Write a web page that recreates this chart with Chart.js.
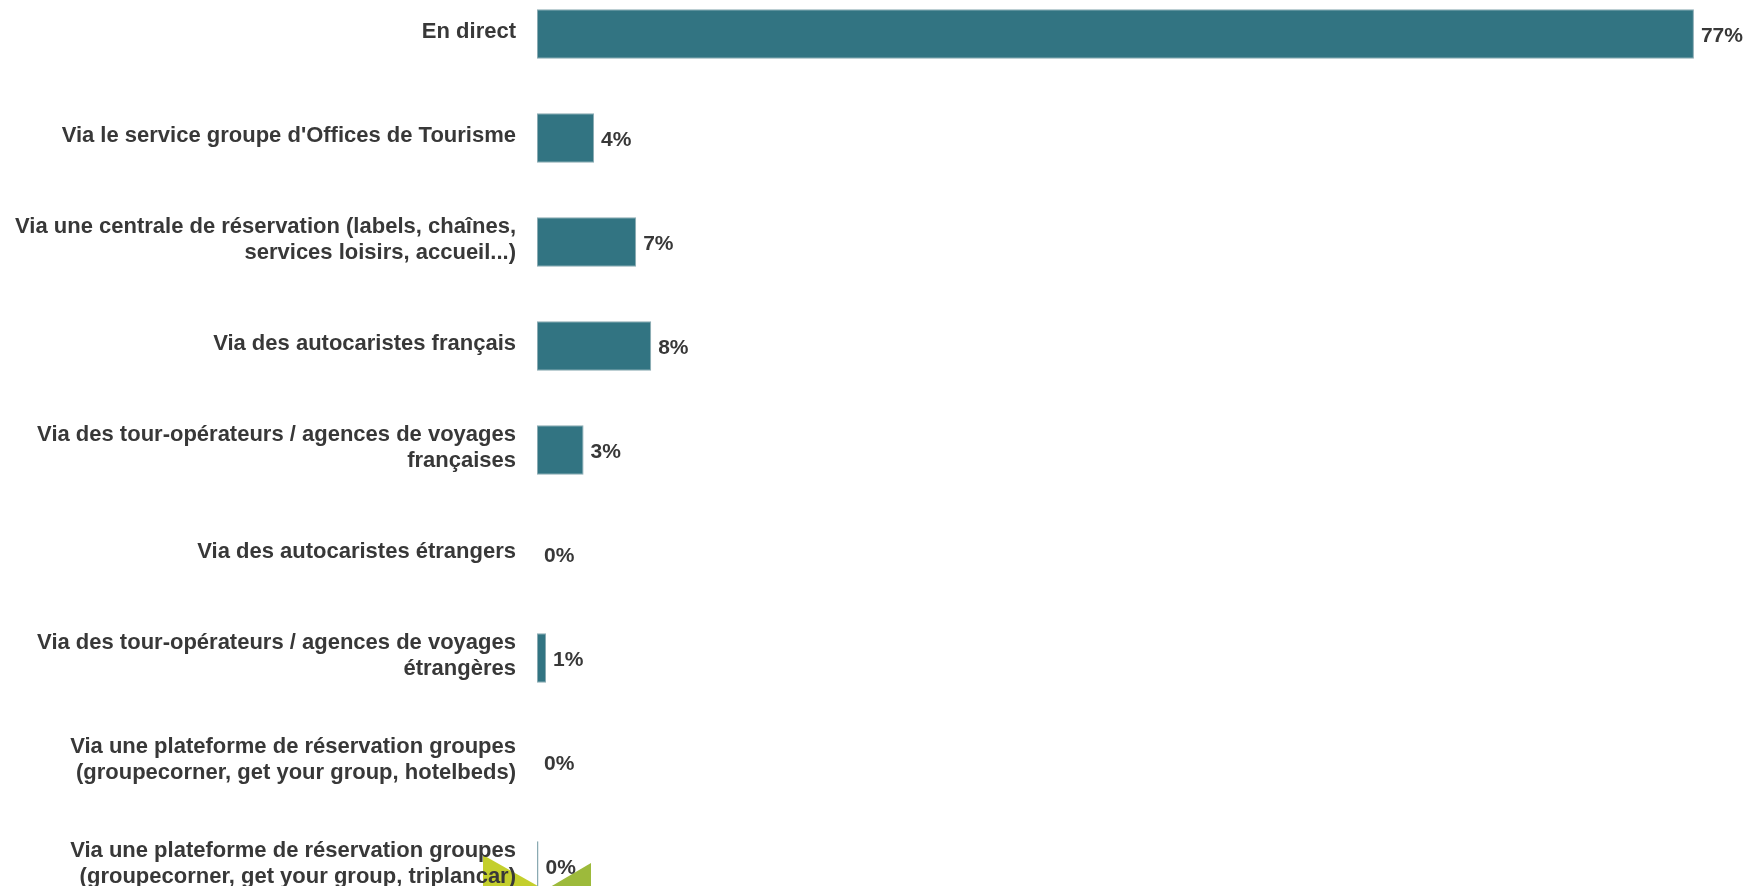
<!DOCTYPE html>
<html lang="fr">
<head>
<meta charset="utf-8">
<title>Canaux de réservation</title>
<script src="https://cdn.jsdelivr.net/npm/chart.js@4/dist/chart.umd.min.js"></script>
<style>
  html, body { margin: 0; padding: 0; background: #fff; overflow: hidden; }
  body { width: 1748px; height: 886px; position: relative; }
  #wrap { position: absolute; left: 0; top: -18px; width: 1748px; height: 936px; }
</style>
</head>
<body>
<div id="wrap"><canvas id="chart"></canvas></div>
<script>
/* ─── Data ───────────────────────────────────────────────────────────────── */
const categories = [
  ['En direct'],
  ["Via le service groupe d'Offices de Tourisme"],
  ['Via une centrale de réservation (labels, chaînes,', 'services loisirs, accueil...)'],
  ['Via des autocaristes français'],
  ['Via des tour-opérateurs / agences de voyages', 'françaises'],
  ['Via des autocaristes étrangers'],
  ['Via des tour-opérateurs / agences de voyages', 'étrangères'],
  ['Via une plateforme de réservation groupes', '(groupecorner, get your group, hotelbeds)'],
  ['Via une plateforme de réservation groupes', '(groupecorner, get your group, triplancar)']
];
const shares = [77, 3.8, 6.6, 7.6, 3.1, 0, 0.6, 0, 0.1];

const TEXT = '#383838';
const FONT = '"Liberation Sans", Arial, sans-serif';

/* ─── Plugins ────────────────────────────────────────────────────────────── */
// value labels at the end of each bar
const valueLabels = {
  id: 'valueLabels',
  afterDatasetsDraw(chart) {
    const { ctx } = chart;
    const meta = chart.getDatasetMeta(0);
    ctx.save();
    ctx.font = `bold 21px ${FONT}`;
    ctx.fillStyle = TEXT;
    ctx.textAlign = 'left';
    ctx.textBaseline = 'middle';
    meta.data.forEach((bar, i) => {
      ctx.fillText(Math.round(shares[i]) + '%', bar.x + 7, bar.y + 2);
    });
    ctx.restore();
  }
};

// green logo corner peeking in at the bottom
const logoCorner = {
  id: 'logoCorner',
  beforeDraw(chart) {
    const { ctx } = chart;
    const off = 18;
    ctx.save();
    ctx.fillStyle = '#c4cf2c';
    ctx.beginPath();
    ctx.moveTo(483, 855 + off);
    ctx.lineTo(545, 890 + off);
    ctx.lineTo(483, 890 + off);
    ctx.closePath();
    ctx.fill();
    ctx.fillStyle = '#9dba3b';
    ctx.beginPath();
    ctx.moveTo(591, 863 + off);
    ctx.lineTo(591, 890 + off);
    ctx.lineTo(545, 890 + off);
    ctx.closePath();
    ctx.fill();
    ctx.restore();
  }
};

/* ─── Chart ──────────────────────────────────────────────────────────────── */
new Chart(document.getElementById('chart'), {
  type: 'bar',
  data: {
    labels: categories,
    datasets: [{
      data: shares,
      backgroundColor: '#327482',
      borderColor: '#8aaab2',
      borderWidth: 1,
      borderSkipped: false,
      categoryPercentage: 1,
      barPercentage: 0.476
    }]
  },
  options: {
    indexAxis: 'y',
    responsive: true,
    maintainAspectRatio: false,
    animation: false,
    layout: { padding: { top: 0, bottom: 0, left: 0, right: 9 } },
    plugins: { legend: { display: false }, tooltip: { enabled: false } },
    scales: {
      x: { display: false, min: 0, max: 80 },
      y: {
        afterFit: s => { s.width = 537; s.paddingTop = 0; s.paddingBottom = 0; },
        grid: { display: false, drawTicks: false },
        border: { display: false },
        ticks: {
          padding: 21,
          labelOffset: -2,
          color: TEXT,
          font: { family: FONT, size: 22, weight: 'bold', lineHeight: 1.2 }
        }
      }
    }
  },
  plugins: [logoCorner, valueLabels]
});
</script>
</body>
</html>
